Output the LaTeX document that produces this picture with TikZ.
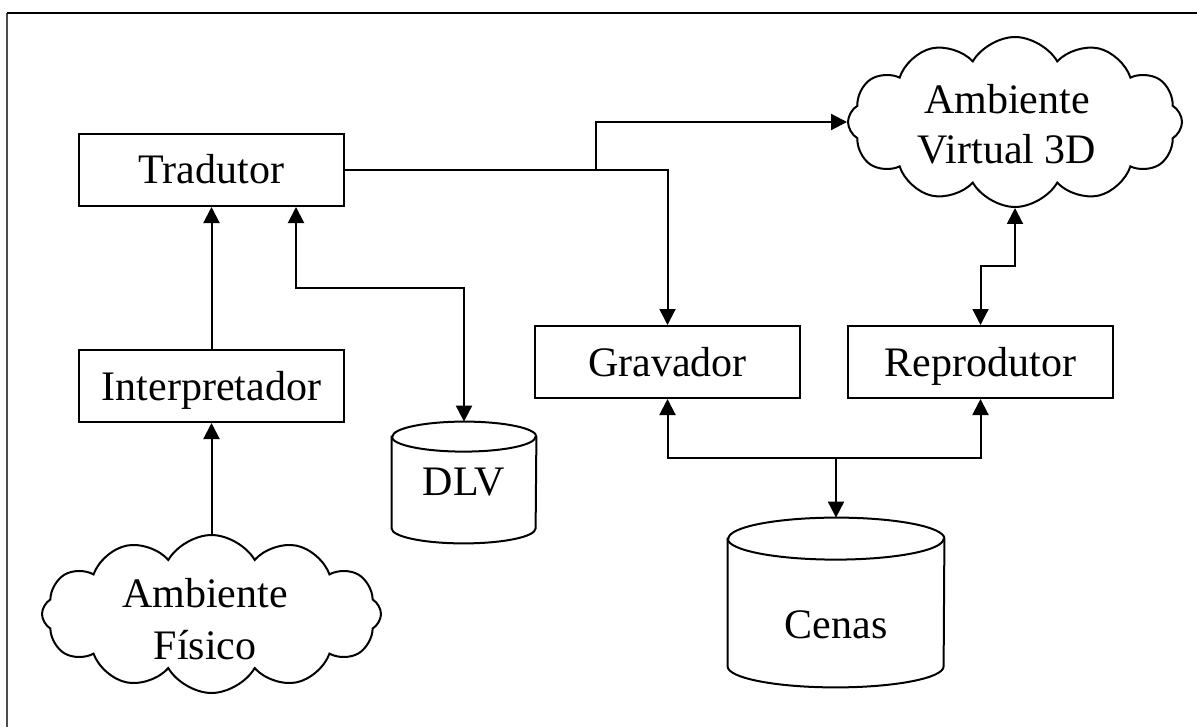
\documentclass[tikz,border=0pt]{standalone}
\usepackage{fontspec}
\setmainfont{Liberation Serif}
\usetikzlibrary{arrows.meta,shapes.symbols,calc}
% cylinder outline around an (invisible) node: name, x radius, y radius of the caps
\newcommand\drawstore[3]{%
  \draw[line width=1pt,fill=white]
    ($(#1.north west)+(0,-#3)$) -- ($(#1.south west)+(0,#3)$)
    arc[start angle=180,end angle=360,x radius=#2,y radius=#3]
    -- ($(#1.north east)+(0,-#3)$)
    arc[start angle=0,end angle=180,x radius=#2,y radius=#3] -- cycle;
  \draw[line width=1pt] ($(#1.north west)+(0,-#3)$)
    arc[start angle=180,end angle=360,x radius=#2,y radius=#3];}
\begin{document}
\begin{tikzpicture}[x=0.5pt,y=-0.5pt,
  lbl/.style={font=\fontsize{21}{25}\selectfont},
  box/.style={draw,line width=1pt,minimum width=132.5pt,minimum height=36pt,
    inner sep=0pt,text height=16pt,text depth=2pt,lbl},
  puff/.style={cloud,draw,line width=1pt,cloud puffs=12,cloud puff arc=120,
    cloud ignores aspect,inner sep=0pt},
  store/.style={inner sep=0pt},
  conn/.style={line width=1pt},
  tip/.tip={Triangle[length=8pt,width=8pt]},
  arr/.style={conn,-tip},
  arrboth/.style={conn,tip-tip}]
\useasboundingbox (0,0) rectangle (1197,727);
% frame
\draw[line width=1pt,gray!60!black] (7,727) -- (7,13);
\draw[line width=1pt] (7,13) -- (1197,13);

% blocks
\node[box] (trad) at (211.5,170) {Tradutor};
\node[box] (interp) at (211.5,386) {Interpretador};
\node[box] (grav) at (667.5,362) {Gravador};
\node[box] (repr) at (980.5,362) {Reprodutor};

% clouds
\node[puff,minimum width=167pt,minimum height=85pt] (virt) at (1015,122) {};
\node[lbl,align=center] (virtlabel) at (1007,124) {Ambiente\\Virtual 3D};
\node[puff,minimum width=169.5pt,minimum height=79pt] (fis) at (211.5,614) {};
\node[lbl,align=center,font=\fontsize{21}{26}\selectfont] (fislabel) at (205,619)
  {Ambiente\\Físico};

% stores
\node[store,minimum width=72pt,minimum height=60.5pt] (dlv) at (464,482.5) {};
\drawstore{dlv}{36pt}{7.5pt}
\node[lbl] (dlvlabel) at (464,482) {DLV};
\node[store,minimum width=108pt,minimum height=84.5pt] (cenas) at (836,602.5) {};
\drawstore{cenas}{54pt}{10.5pt}
\node[lbl] (cenaslabel) at (836,625) {Cenas};

% connectors
\coordinate (split) at (596,170);
\coordinate (dlvbend) at (296,288);
\coordinate (bus) at (836,458);
\coordinate (vbend) at (1015,266);

\draw[arr] (fis) -- (interp.south);
\draw[arr] (interp.north) -- (trad.south);
\draw[arrboth] (trad.south -| dlvbend) -- (dlvbend) -| (dlv.north);
\draw[arr] (trad.east) -| (grav.north);
\draw[arr] (split) |- (virt);
\draw[arrboth] (grav.south) |- (bus) -| (repr.south);
\draw[arr] (bus) -- (cenas.north);
\draw[arrboth] (repr.north) -- (repr.north |- vbend) -| (virt);
\end{tikzpicture}
\end{document}
